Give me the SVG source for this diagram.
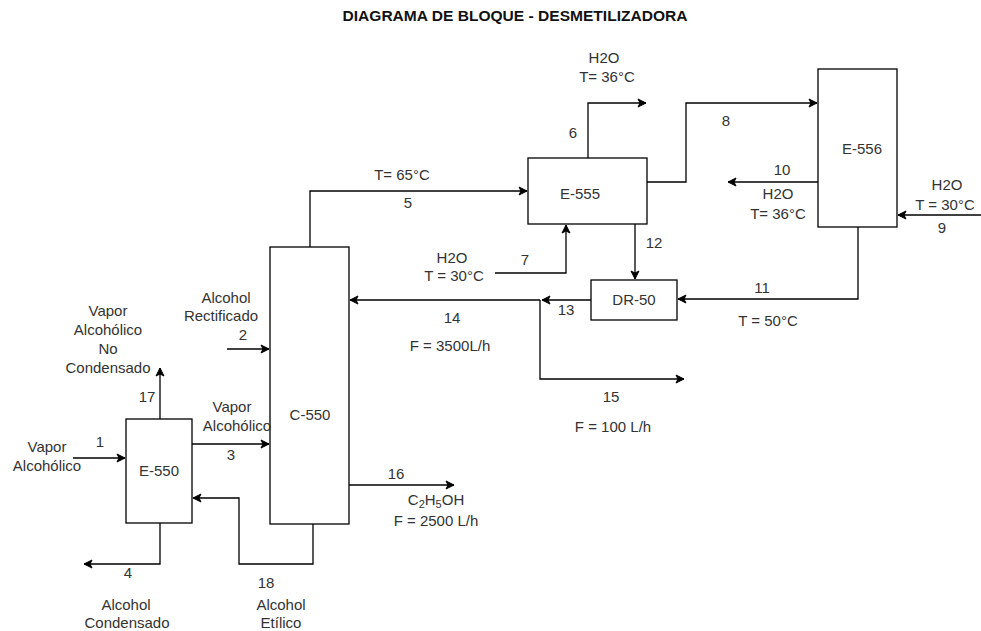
<svg xmlns="http://www.w3.org/2000/svg" width="981" height="631" viewBox="0 0 981 631">
<defs>
<marker id="arr" markerWidth="10" markerHeight="10" refX="9" refY="5" orient="auto" markerUnits="userSpaceOnUse">
<path d="M1,1 L9,5 L1,9 L3,5 z" fill="#000" stroke="#000" stroke-width="1"/>
</marker>
<style>
.box{fill:#fff;stroke:#000;stroke-width:1.3}
.ln{fill:none;stroke:#000;stroke-width:1.3;marker-end:url(#arr)}
text{font-family:"Liberation Sans",Arial,sans-serif;font-size:15px;fill:#333;text-anchor:middle}
.t{font-weight:bold;font-size:14.5px;fill:#111}
</style>
</defs>
<rect width="981" height="631" fill="#fff"/>
<text class="t" x="515" y="21" textLength="345" lengthAdjust="spacingAndGlyphs">DIAGRAMA DE BLOQUE - DESMETILIZADORA</text>

<g id="connectors">
<polyline class="ln" points="73,458 125,458"/>
<polyline class="ln" points="160,419 160,368"/>
<polyline class="ln" points="192,444 269,444"/>
<polyline class="ln" points="227,349 269,349"/>
<polyline class="ln" points="160,523 160,564 84,564"/>
<polyline class="ln" points="313,524 313,564 239,564 239,498 193,498"/>
<polyline class="ln" points="310,247 310,191 527,191"/>
<polyline class="ln" points="588,158 588,103 646,103"/>
<polyline class="ln" points="495,273 566,273 566,225"/>
<polyline class="ln" points="635,224 635,279"/>
<polyline class="ln" points="647,182 686,182 686,103 817,103"/>
<polyline class="ln" points="818,182 728,182"/>
<polyline class="ln" points="981,215 898,215"/>
<polyline class="ln" points="858,227 858,299 678,299"/>
<polyline class="ln" points="591,300 542,300"/>
<polyline class="ln" points="540,300 350,300"/>
<polyline class="ln" points="540,300 540,379 684,379"/>
<polyline class="ln" points="349,485 454,485"/>
</g>

<g id="E-550"><rect class="box" x="126" y="419" width="66" height="104"/><text x="159" y="476">E-550</text></g>
<g id="C-550"><rect class="box" x="270" y="247" width="79" height="277"/><text x="310" y="420">C-550</text></g>
<g id="E-555"><rect class="box" x="528" y="158" width="119" height="66"/><text x="580" y="199">E-555</text></g>
<g id="DR-50"><rect class="box" x="591" y="280" width="86" height="40"/><text x="634" y="305">DR-50</text></g>
<g id="E-556"><rect class="box" x="818" y="69" width="79" height="158"/><text x="862" y="154">E-556</text></g>

<g id="labels">
<text x="47" y="452">Vapor</text><text x="47" y="471">Alcohólico</text><text x="100" y="447">1</text>
<text x="108" y="316">Vapor</text><text x="108" y="335">Alcohólico</text><text x="108" y="354">No</text><text x="108" y="373">Condensado</text><text x="147" y="402">17</text>
<text x="232" y="412">Vapor</text><text x="237" y="431">Alcohólico</text><text x="231" y="460">3</text>
<text x="226" y="303">Alcohol</text><text x="221" y="321">Rectificado</text><text x="243" y="340">2</text>
<text x="128" y="578">4</text><text x="126" y="610">Alcohol</text><text x="127" y="628">Condensado</text>
<text x="266" y="588">18</text><text x="281" y="610">Alcohol</text><text x="281" y="628">Etílico</text>
<text x="402" y="180">T= 65°C</text><text x="408" y="208">5</text>
<text x="573" y="138">6</text><text x="604" y="63">H2O</text><text x="607" y="82">T= 36°C</text>
<text x="525" y="265">7</text><text x="452" y="263">H2O</text><text x="454" y="281">T = 30°C</text>
<text x="654" y="248">12</text>
<text x="726" y="126">8</text>
<text x="782" y="175">10</text><text x="778" y="199">H2O</text><text x="778" y="219">T= 36°C</text>
<text x="947" y="190">H2O</text><text x="945" y="210">T = 30°C</text><text x="942" y="233">9</text>
<text x="762" y="293">11</text><text x="768" y="326">T = 50°C</text>
<text x="566" y="315">13</text>
<text x="452" y="323">14</text><text x="450" y="351">F = 3500L/h</text>
<text x="611" y="402">15</text><text x="613" y="432">F = 100 L/h</text>
<text x="396" y="479">16</text>
<text x="436" y="505">C<tspan font-size="11" dy="3">2</tspan><tspan dy="-3">H</tspan><tspan font-size="11" dy="3">5</tspan><tspan dy="-3">OH</tspan></text>
<text x="436" y="526">F = 2500 L/h</text>
</g>
</svg>
